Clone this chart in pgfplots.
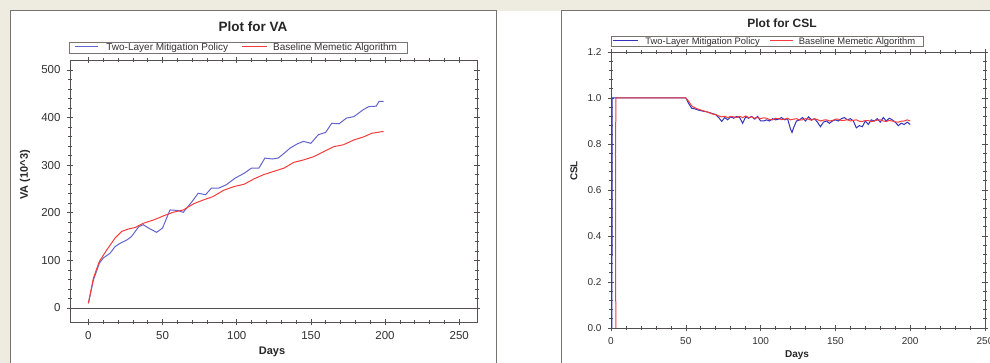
\documentclass[border=0pt]{standalone}
\usepackage{pgfplots}
\pgfplotsset{compat=1.18}
\usepackage{fontspec}
\setmainfont{Liberation Sans}
\definecolor{bg}{RGB}{238,236,224}
\definecolor{frm}{RGB}{120,115,110}
\definecolor{axc}{RGB}{85,80,80}
\definecolor{lblue}{RGB}{100,100,205}
\definecolor{dblue}{RGB}{50,50,190}
\definecolor{lred}{RGB}{245,60,60}
\definecolor{txt}{RGB}{50,50,50}

\pgfplotstableread{
x y
0 10
3.4 59
7.4 94
10 105
14.6 115
18 129
21.4 136
26 143
29 150
34 171
37 175
40.5 168
46 159
50 168
55 206
60 205
64 201
70 224
74 241
79 238
83 252
88 252
93 259
99 273
105 283
110 294
115 294
119 315
124 313
128 315
132 325
136 336
141 345
145 350
150 346
155 364
160 369
164 388
169 387
174 399
179 402
185 416
189 423
194 424
196 434
199 434
}\vablue

\pgfplotstableread{
x y
0 10
3.4 63
7.4 98
12.4 122
18 147
22.5 161
27 166
31.5 169
37 178
44 185
51 194
57 201
64 206
71 219
77.5 227
84 234
91 247
98 255
105 260
111.5 271
118 280
125 287
132 294
138.5 306
145 311
152 318
159 329
165.5 339
172 343
179 353
186 360
191 367
199 371
}\vared

\pgfplotstableread{
x y
0.6 0
0.8 1.0
50 1.0
52 0.975
54 0.955
56 0.953
58 0.948
60 0.945
62 0.942
64 0.940
66 0.936
68 0.932
70 0.928
72 0.915
74 0.898
76 0.915
78 0.905
80 0.918
82 0.912
84 0.920
86 0.915
88 0.890
90 0.918
92 0.912
94 0.920
96 0.908
98 0.920
100 0.900
102 0.900
104 0.905
106 0.900
108 0.910
110 0.905
112 0.908
114 0.915
116 0.905
118 0.910
120 0.865
121 0.850
122 0.870
124 0.900
126 0.905
128 0.915
130 0.900
132 0.918
134 0.905
136 0.910
138 0.895
140 0.875
142 0.895
144 0.900
146 0.890
148 0.900
150 0.905
152 0.900
154 0.910
156 0.915
158 0.905
160 0.910
162 0.900
164 0.870
166 0.880
168 0.875
170 0.900
172 0.885
174 0.905
176 0.900
178 0.910
180 0.895
182 0.915
184 0.900
186 0.912
188 0.905
190 0.895
192 0.880
194 0.890
196 0.885
198 0.895
200 0.885
}\cslblue

\pgfplotstableread{
x y
3.2 0
3.0 0.76
3.3 1.0
50 1.0
52 0.985
54 0.965
56 0.958
58 0.952
60 0.948
62 0.944
64 0.940
66 0.935
68 0.930
70 0.928
72 0.922
74 0.918
76 0.920
78 0.915
80 0.920
82 0.918
84 0.915
86 0.920
88 0.915
90 0.922
92 0.915
94 0.918
96 0.912
98 0.915
100 0.910
102 0.914
104 0.912
106 0.906
108 0.905
110 0.912
112 0.910
114 0.906
116 0.908
118 0.912
120 0.905
122 0.908
124 0.910
126 0.904
128 0.905
130 0.910
132 0.908
134 0.903
136 0.910
138 0.906
140 0.900
142 0.904
144 0.905
146 0.900
148 0.902
150 0.908
152 0.908
154 0.902
156 0.903
158 0.906
160 0.900
162 0.903
164 0.905
166 0.899
168 0.898
170 0.902
172 0.902
174 0.897
176 0.900
178 0.904
180 0.905
182 0.900
184 0.898
186 0.902
188 0.900
190 0.896
192 0.895
194 0.899
196 0.900
198 0.905
200 0.900
}\cslred

\begin{document}
\begin{tikzpicture}
\useasboundingbox (0pt,0pt) rectangle (990pt,363pt);
\fill[bg] (0pt,0pt) rectangle (990pt,363pt);
\fill[white] (10pt,0pt) rectangle (990pt,352pt);
\draw[frm,line width=1pt] (10pt,0pt) -- (10pt,352pt) -- (496pt,352pt) -- (496pt,0pt);
\draw[frm,line width=1pt] (561pt,0pt) -- (561pt,352pt) -- (995pt,352pt);

\pgfplotsset{
  every axis/.append style={
    scale only axis,
    axis line style={axc,line width=0.8pt},
    tick style={axc,line width=0.6pt},
    tick align=center,
    major tick length=6pt,
    minor tick length=3.5pt,
    minor x tick num=4,
    minor y tick num=4,
    /pgf/number format/assume math mode=true,
    tick label style={text=txt},
  }
}

% ---------- Left: VA ----------
\begin{axis}[
  at={(70pt,41pt)}, anchor=south west,
  width=407pt, height=262pt,
  xmin=-12.4, xmax=262, ymin=-29.4, ymax=521,
  xtick={0,50,100,150,200,250},
  ytick={0,100,200,300,400,500},
  extra y ticks={0}, extra y tick labels={},
  extra y tick style={grid=major, major grid style={axc,line width=0.8pt}},
  tick label style={font=\fontsize{11.5}{12}\selectfont},
  xticklabel style={yshift=-3pt},
  yticklabel style={xshift=-3pt},
]
\addplot[color=lblue, line width=1pt] table[x=x,y=y] {\vablue};
\addplot[color=lred, line width=1pt] table[x=x,y=y] {\vared};
\end{axis}

% ---------- Right: CSL ----------
\begin{axis}[
  at={(611pt,35pt)}, anchor=south west,
  width=374pt, height=276pt,
  xmin=0, xmax=250, ymin=0, ymax=1.2,
  xtick={0,50,100,150,200,250},
  ytick={0,0.2,0.4,0.6,0.8,1.0,1.2},
  yticklabel style={xshift=-3pt, /pgf/number format/fixed, /pgf/number format/fixed zerofill, /pgf/number format/precision=1},
  tick label style={font=\fontsize{10}{11}\selectfont},
  xticklabel style={yshift=-3pt},
]
\addplot[color=dblue, line width=1pt] table[x=x,y=y] {\cslblue};
\addplot[color=lred, line width=1pt] table[x=x,y=y] {\cslred};
\end{axis}

% legends
\node[anchor=west, draw=frm, line width=0.8pt, inner xsep=0pt, inner ysep=0.75pt,
      text height=7.5pt, text depth=2pt, text=txt, font=\fontsize{10}{10}\selectfont]
  at (69pt,315.5pt)
  {\hspace*{6pt}\textcolor{lblue}{\rule[3pt]{23pt}{1pt}}\hspace{8pt}Two-Layer Mitigation Policy\hspace{14pt}\textcolor{lred}{\rule[3pt]{25pt}{1pt}}\hspace{6pt}Baseline Memetic Algorithm\hspace*{10pt}};
\node[anchor=west, draw=frm, line width=0.8pt, inner xsep=0pt, inner ysep=0.5pt,
      text height=7pt, text depth=1.8pt, text=txt, font=\fontsize{9.4}{9.4}\selectfont]
  at (611pt,321.5pt)
  {\hspace*{2pt}\textcolor{dblue}{\rule[3pt]{25pt}{1pt}}\hspace{7pt}Two-Layer Mitigation Policy\hspace{10pt}\textcolor{lred}{\rule[3pt]{23pt}{1pt}}\hspace{6pt}Baseline Memetic Algorithm\hspace*{8pt}};

% titles and labels
\node[font=\bfseries\fontsize{13.5}{14}\selectfont, text=black!85] at (253pt,336pt) {Plot for VA};
\node[font=\bfseries\fontsize{12}{13}\selectfont, text=black!85] at (782pt,340pt) {Plot for CSL};
\node[font=\bfseries\fontsize{11}{12}\selectfont, text=black!85] at (272pt,11pt) {Days};
\node[font=\bfseries\fontsize{10}{11}\selectfont, text=black!85] at (797pt,8pt) {Days};
\node[font=\bfseries\fontsize{11}{12}\selectfont, text=black!85, rotate=90] at (25pt,188pt) {VA (10\textasciicircum 3)};
\node[font=\bfseries\fontsize{10}{11}\selectfont, text=black!85, rotate=90] at (574pt,192pt) {CSL};
\end{tikzpicture}
\end{document}
